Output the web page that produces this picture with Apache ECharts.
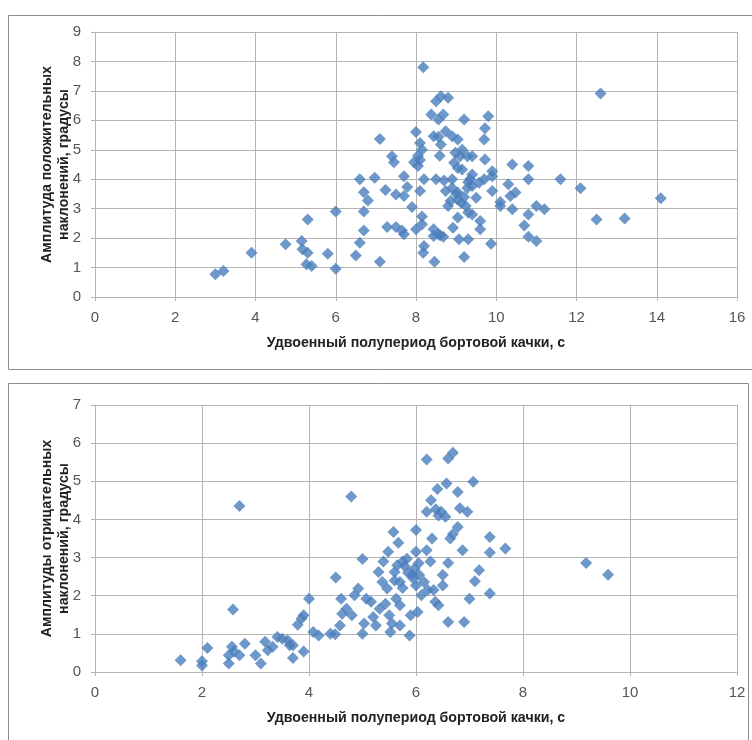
<!DOCTYPE html>
<html>
<head>
<meta charset="utf-8">
<script src="https://cdn.jsdelivr.net/npm/echarts@6/dist/echarts.min.js"></script>
<style>
  html, body { margin: 0; padding: 0; background: #fff; }
  #chart { width: 752px; height: 740px; }
</style>
</head>
<body>
<div id="chart"></div>
<script>
// верхний график: положительные наклонения
const posPeriod = [
  3.0, 3.2, 3.9, 4.75, 5.15, 5.17, 5.3, 5.3, 5.27, 5.4, 5.8, 6.0, 6.0, 6.5, 6.6, 6.6, 6.7, 6.7, 6.7, 6.8,
  6.97, 7.1, 7.1, 7.28, 7.24, 7.4, 7.45, 7.5, 7.5, 7.65, 7.7, 7.7, 7.7, 7.78, 7.9, 8.0, 7.95, 8.05, 8.18, 8.1,
  8.15, 8.1, 8.2, 8.15, 8.0, 8.15, 8.2, 8.18, 8.46, 8.44, 8.44, 8.38, 8.5, 8.62, 8.8, 8.56, 8.68, 8.44, 8.56, 8.62,
  8.59, 8.5, 8.7, 8.74, 8.9, 9.04, 8.98, 8.95, 8.9, 8.74, 8.86, 8.8, 8.92, 8.68, 8.56, 9.04, 9.07, 9.2, 9.3, 9.2,
  9.15, 9.1, 9.28, 9.4, 9.04, 9.15, 9.4, 9.28, 9.4, 9.04, 9.04, 9.13, 9.24, 9.3, 9.4, 9.5, 9.57, 9.6, 9.6, 9.72,
  9.7, 9.8, 9.72, 9.7, 9.9, 9.9, 9.9, 9.87, 10.1, 10.1, 10.3, 10.35, 10.4, 10.4, 10.48, 10.7, 10.8, 10.8, 10.8, 10.8,
  11.0, 11.0, 11.2, 11.6, 12.1, 12.5, 12.6, 13.2, 14.1,
  9.0, 9.2, 8.9, 9.3, 9.35, 8.05, 8.1, 8.6
];
const posAmp = [
  0.77, 0.88, 1.5, 1.79, 1.9, 1.62, 2.63, 1.5, 1.11, 1.05, 1.47, 0.96, 2.9, 1.41, 4.0, 1.84, 2.26, 3.56, 2.9, 3.28,
  4.05, 5.37, 1.2, 2.38, 3.63, 4.78, 4.58, 3.48, 2.38, 2.26, 2.13, 3.43, 4.1, 3.74, 3.06, 5.6, 4.58, 4.45, 7.8, 5.23,
  5.0, 3.6, 4.0, 2.73, 2.3, 2.47, 1.73, 1.5, 1.2, 2.07, 2.3, 6.2, 6.65, 6.82, 6.77, 6.03, 6.2, 5.46, 5.44, 5.18,
  4.8, 4.0, 3.96, 5.63, 5.46, 5.35, 4.9, 4.56, 4.0, 3.6, 3.26, 3.09, 2.35, 2.05, 2.13, 2.7, 1.96, 1.36, 1.96, 6.03,
  5.0, 4.78, 4.78, 4.78, 4.38, 4.33, 4.16, 3.7, 3.77, 3.55, 3.3, 3.2, 3.09, 2.87, 2.8, 3.37, 3.88, 2.58, 2.3, 5.73,
  5.35, 6.14, 4.67, 4.0, 4.27, 4.1, 3.6, 1.81, 3.09, 3.23, 3.83, 3.43, 4.5, 2.98, 3.55, 2.43, 2.8, 4.45, 4.0, 2.05,
  1.9, 3.09, 2.98, 4.0, 3.69, 2.63, 6.91, 2.67, 3.35,
  3.5, 3.4, 3.7, 3.9, 4.0, 4.8, 4.65, 2.1
];

// нижний график: отрицательные наклонения
const negPeriod = [
  1.6, 2.0, 2.0, 2.1, 2.5, 2.5, 2.56, 2.6, 2.7, 2.58, 2.7, 2.8, 3.0, 3.1, 3.18, 3.23, 3.32, 3.41, 3.5, 3.6,
  3.64, 3.7, 3.7, 3.79, 3.86, 3.9, 3.9, 4.0, 4.08, 4.18, 4.4, 4.49, 4.5, 4.58, 4.6, 4.62, 4.7, 4.79, 4.8, 4.85,
  4.92, 5.0, 5.0, 5.03, 5.07, 5.16, 5.2, 5.25, 5.3, 5.32, 5.37, 5.39, 5.43, 5.46, 5.48, 5.5, 5.52, 5.55, 5.58, 5.6,
  5.63, 5.67, 5.7, 5.7, 5.7, 5.75, 5.79, 5.83, 5.88, 5.9, 5.93, 5.97, 6.0, 6.0, 6.0, 6.03, 6.06, 6.1, 6.15, 6.2,
  6.2, 6.2, 6.22, 6.27, 6.28, 6.3, 6.33, 6.36, 6.37, 6.4, 6.42, 6.42, 6.47, 6.5, 6.5, 6.55, 6.57, 6.6, 6.6, 6.6,
  6.64, 6.69, 6.69, 6.78, 6.78, 6.82, 6.87, 6.9, 6.96, 7.0, 7.07, 7.1, 7.18, 7.38, 7.38, 7.38, 7.67, 9.18, 9.59,
  5.65, 5.85, 5.95, 5.6, 5.75, 6.05
];
const negAmp = [
  0.31, 0.28, 0.17, 0.63, 0.22, 0.44, 0.66, 0.54, 0.44, 1.64, 4.35, 0.74, 0.44, 0.22, 0.79, 0.57, 0.66, 0.92, 0.87, 0.83,
  0.7, 0.37, 0.7, 1.24, 1.4, 1.49, 0.54, 1.92, 1.05, 0.96, 1.0, 0.99, 2.48, 1.22, 1.92, 1.53, 1.66, 4.6, 1.49, 2.01,
  2.19, 2.96, 1.0, 1.27, 1.92, 1.84, 1.44, 1.22, 2.62, 1.66, 2.36, 2.9, 1.79, 2.19, 3.15, 1.49, 1.05, 1.27, 3.67, 2.62,
  1.92, 3.39, 2.36, 1.75, 1.22, 2.9, 2.77, 2.97, 0.96, 1.49, 2.54, 2.71, 3.72, 3.15, 2.27, 1.57, 2.54, 2.01, 2.36, 5.57,
  4.2, 3.19, 2.15, 2.9, 4.5, 3.5, 2.15, 1.84, 4.27, 4.8, 4.1, 1.75, 4.2, 2.54, 2.27, 4.07, 4.94, 5.6, 2.86, 1.31,
  3.5, 5.75, 3.62, 4.72, 3.8, 4.29, 3.19, 1.31, 4.2, 1.92, 4.99, 2.38, 2.67, 3.54, 3.13, 2.06, 3.24, 2.86, 2.55,
  2.8, 2.6, 2.45, 2.4, 2.2, 2.85
];

const posTicksX = [0, 2, 4, 6, 8, 10, 12, 14, 16];
const posTicksY = [0, 1, 2, 3, 4, 5, 6, 7, 8, 9];
const negTicksX = [0, 2, 4, 6, 8, 10, 12];
const negTicksY = [0, 1, 2, 3, 4, 5, 6, 7];

const xTitle = 'Удвоенный полупериод бортовой качки, с';
const posTitle = 'Амплитуда положительных\nнаклонений, градусы';
const negTitle = 'Амплитуды отрицательных\nнаклонений, градусы';

const zip = (xs, ys) => xs.map((x, i) => [x, ys[i]]);

const font = "'Liberation Sans Narrow', 'Liberation Sans', Arial, sans-serif";
const boldFont = "'Liberation Sans', Arial, sans-serif";
const gridColor = '#b4b4b4';

const makeX = (idx, ticks) => ({
  type: 'value',
  gridIndex: idx,
  min: ticks[0],
  max: ticks[ticks.length - 1],
  interval: ticks[1] - ticks[0],
  name: xTitle,
  nameLocation: 'middle',
  nameGap: 39,
  nameTextStyle: { fontFamily: boldFont, fontWeight: 'bold', fontSize: 14.2, color: '#222' },
  axisLine: { show: true, lineStyle: { color: gridColor } },
  axisTick: { show: true, length: 4, lineStyle: { color: gridColor } },
  axisLabel: { fontFamily: font, fontSize: 15, color: '#555', margin: 13 },
  splitLine: { show: true, lineStyle: { color: gridColor, width: 1 } }
});

const makeY = (idx, ticks, title) => ({
  type: 'value',
  gridIndex: idx,
  min: ticks[0],
  max: ticks[ticks.length - 1],
  interval: ticks[1] - ticks[0],
  name: title,
  nameLocation: 'middle',
  nameRotate: 90,
  nameGap: 22,
  nameMoveOverlap: false,
  nameTextStyle: { fontFamily: boldFont, fontWeight: 'bold', fontSize: 14.2, color: '#222', lineHeight: 17 },
  axisLine: { show: true, lineStyle: { color: gridColor } },
  axisTick: { show: true, length: 4, lineStyle: { color: gridColor } },
  axisLabel: { fontFamily: font, fontSize: 15, color: '#555', margin: 14 },
  splitLine: { show: true, lineStyle: { color: gridColor, width: 1 } }
});

const marker = { symbol: 'diamond', symbolSize: 12, itemStyle: { color: '#4a7ebb' } };

const chart = echarts.init(document.getElementById('chart'), null, { renderer: 'canvas' });
chart.setOption({
  animation: false,
  backgroundColor: '#fff',
  graphic: [
    { type: 'rect', shape: { x: 8.5, y: 15.5, width: 760, height: 354 }, style: { fill: 'none', stroke: '#8c8c8c', lineWidth: 1 } },
    { type: 'rect', shape: { x: 8.5, y: 383.5, width: 740, height: 370 }, style: { fill: 'none', stroke: '#8c8c8c', lineWidth: 1 } }
  ],
  grid: [
    { left: 95, right: 15, top: 32, height: 265 },
    { left: 95, right: 15, top: 405, height: 267 }
  ],
  xAxis: [makeX(0, posTicksX), makeX(1, negTicksX)],
  yAxis: [makeY(0, posTicksY, posTitle), makeY(1, negTicksY, negTitle)],
  series: [
    Object.assign({ type: 'scatter', xAxisIndex: 0, yAxisIndex: 0, data: zip(posPeriod, posAmp) }, marker),
    Object.assign({ type: 'scatter', xAxisIndex: 1, yAxisIndex: 1, data: zip(negPeriod, negAmp) }, marker)
  ]
});
</script>
</body>
</html>
